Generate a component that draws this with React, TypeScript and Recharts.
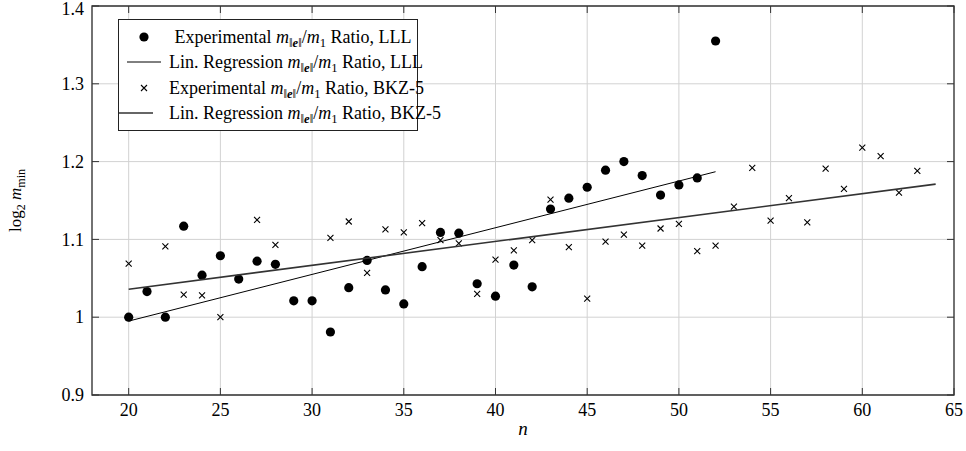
import React from 'react';
import { ScatterChart, Scatter, XAxis, YAxis, CartesianGrid, ReferenceArea, Legend } from 'recharts';

// ---- data ----
const nLLL = [20, 21, 22, 23, 24, 25, 26, 27, 28, 29, 30, 31, 32, 33, 34, 35, 36, 37, 38, 39, 40, 41, 42, 43, 44, 45, 46, 47, 48, 49, 50, 51, 52];
const ratioLLL = [1.0, 1.033, 1.0, 1.117, 1.054, 1.079, 1.049, 1.072, 1.068, 1.021, 1.021, 0.981, 1.038, 1.073, 1.035, 1.017, 1.065, 1.109, 1.108, 1.043, 1.027, 1.067, 1.039, 1.139, 1.153, 1.167, 1.189, 1.2, 1.182, 1.157, 1.17, 1.179, 1.355];

const nBKZ = [20, 22, 23, 24, 25, 27, 28, 31, 32, 33, 34, 35, 36, 37, 38, 39, 40, 41, 42, 43, 44, 45, 46, 47, 48, 49, 50, 51, 52, 53, 54, 55, 56, 57, 58, 59, 60, 61, 62, 63];
const ratioBKZ = [1.069, 1.091, 1.029, 1.028, 1.0, 1.125, 1.093, 1.102, 1.123, 1.057, 1.113, 1.109, 1.121, 1.099, 1.095, 1.03, 1.074, 1.086, 1.099, 1.151, 1.09, 1.024, 1.097, 1.106, 1.092, 1.114, 1.12, 1.085, 1.092, 1.142, 1.192, 1.124, 1.153, 1.122, 1.191, 1.165, 1.218, 1.207, 1.16, 1.188];

const regLLLn = [20, 52];
const regLLLv = [0.995, 1.187];
const regBKZn = [20, 64];
const regBKZv = [1.036, 1.171];

const xTicks = [20, 25, 30, 35, 40, 45, 50, 55, 60, 65];
const yTicks = [0.9, 1, 1.1, 1.2, 1.3, 1.4];
const xDomain = [18, 65];
const yDomain = [0.9, 1.4];

const legendMethods = ['LLL', 'LLL', 'BKZ-5', 'BKZ-5'];
const legendPrefixes = ['Experimental', 'Lin. Regression', 'Experimental', 'Lin. Regression'];

const toPoints = (xs: number[], ys: number[]) => xs.map((x, i) => ({ x, y: ys[i] }));
const dataLLL = toPoints(nLLL, ratioLLL);
const dataBKZ = toPoints(nBKZ, ratioBKZ);
const lineLLL = toPoints(regLLLn, regLLLv);
const lineBKZ = toPoints(regBKZn, regBKZv);

// ---- layout ----
const W = 966;
const H = 451;
const MARGIN = { top: 6, right: 12, left: 0, bottom: 0 };
const Y_AXIS_W = 92;
const X_AXIS_H = 56;
const PLOT_TOP = MARGIN.top;
const PLOT_BOTTOM = H - MARGIN.bottom - X_AXIS_H;
const PLOT_LEFT = MARGIN.left + Y_AXIS_W;
const PLOT_RIGHT = W - MARGIN.right;
const FONT = "'Liberation Serif', 'DejaVu Serif', serif";
const TICK_LEN = 7;
const FRAME = '#333';
const txt: React.CSSProperties = { fontFamily: FONT };

const XTick = (props: any) => {
  const { x, y, payload } = props;
  return (
    <g>
      <line x1={x} x2={x} y1={PLOT_BOTTOM} y2={PLOT_BOTTOM - TICK_LEN} stroke={FRAME} strokeWidth={1} />
      <line x1={x} x2={x} y1={PLOT_TOP} y2={PLOT_TOP + TICK_LEN} stroke={FRAME} strokeWidth={1} />
      <text x={x} y={y} dy="0.72em" textAnchor="middle" style={txt} fontSize={18} fill="#000">
        {String(payload.value)}
      </text>
    </g>
  );
};

const YTick = (props: any) => {
  const { x, y, payload } = props;
  const ly = Math.max(y, 9);
  return (
    <g>
      <line x1={PLOT_LEFT} x2={PLOT_LEFT + TICK_LEN} y1={y} y2={y} stroke={FRAME} strokeWidth={1} />
      <line x1={PLOT_RIGHT} x2={PLOT_RIGHT - TICK_LEN} y1={y} y2={y} stroke={FRAME} strokeWidth={1} />
      <text x={x} y={ly} dy="0.34em" textAnchor="end" style={txt} fontSize={18} fill="#000">
        {String(payload.value)}
      </text>
    </g>
  );
};

const Dot = (props: any) => <circle cx={props.cx} cy={props.cy} r={4.6} fill="#000" />;
const Cross = (props: any) => {
  const { cx, cy } = props;
  const s = 3;
  return (
    <path
      d={`M${cx - s},${cy - s}L${cx + s},${cy + s}M${cx + s},${cy - s}L${cx - s},${cy + s}`}
      stroke="#000"
      strokeWidth={1.1}
      fill="none"
    />
  );
};
const NoShape = () => <g />;

const subStyle: React.CSSProperties = { fontSize: '0.7em', verticalAlign: '-0.3em', lineHeight: 0 };
const MathRatio = () => (
  <>
    <i>m</i>
    <sub style={subStyle}>
      ‖<b><i>e</i></b>‖
    </sub>
    /<i>m</i>
    <sub style={subStyle}>1</sub>
  </>
);

const LegendSymbol = ({ idx }: { idx: number }) => (
  <svg width={50} height={20}>
    {idx === 0 && <circle cx={25} cy={10} r={4.6} fill="#000" />}
    {idx === 1 && <line x1={8} x2={42} y1={10} y2={10} stroke="#000" strokeWidth={1} />}
    {idx === 2 && (
      <path d="M22,7L28,13M28,7L22,13" stroke="#000" strokeWidth={1.1} fill="none" />
    )}
    {idx === 3 && <line x1={0} x2={34} y1={10} y2={10} stroke="#333" strokeWidth={1.6} />}
  </svg>
);

const LegendBox = () => (
  <div
    style={{
      border: '1.3px solid #222',
      background: '#fff',
      padding: '4px 0',
      fontFamily: FONT,
      fontSize: 18,
      color: '#000',
      boxSizing: 'border-box',
      width: 300,
    }}
  >
    {legendPrefixes.map((p, i) => (
      <div key={i} style={{ display: 'flex', alignItems: 'center', height: 25.5 }}>
        <div style={{ width: 50, display: 'flex', alignItems: 'center' }}>
          <LegendSymbol idx={i} />
        </div>
        <div style={{ flex: 1, textAlign: 'center', whiteSpace: 'nowrap', lineHeight: '20px' }}>
          {p} <MathRatio /> Ratio, {legendMethods[i]}
        </div>
      </div>
    ))}
  </div>
);

const YLabel = (props: any) => {
  const vb = props.viewBox || { x: 0, y: PLOT_TOP, width: Y_AXIS_W, height: PLOT_BOTTOM - PLOT_TOP };
  const cx = vb.x + 21;
  const cy = vb.y + vb.height / 2;
  return (
    <text
      x={cx}
      y={cy}
      transform={`rotate(-90, ${cx}, ${cy})`}
      textAnchor="middle"
      style={txt}
      fontSize={17}
      fill="#000"
    >
      log
      <tspan dy={4} fontSize={12}>2</tspan>
      <tspan dy={-4} fontStyle="italic"> m</tspan>
      <tspan dy={4} fontSize={12}>min</tspan>
    </text>
  );
};

const XLabel = (props: any) => {
  const vb = props.viewBox || { x: PLOT_LEFT, y: PLOT_BOTTOM, width: PLOT_RIGHT - PLOT_LEFT };
  return (
    <text
      x={vb.x + vb.width / 2}
      y={vb.y + 40}
      textAnchor="middle"
      style={txt}
      fontSize={19}
      fontStyle="italic"
      fill="#000"
    >
      n
    </text>
  );
};

export default function App() {
  return (
    <div style={{ position: 'absolute', left: 0, top: 0, width: W, height: H, background: '#fff' }}>
      <ScatterChart width={W} height={H} margin={MARGIN}>
        <CartesianGrid stroke="#d2d2d2" strokeWidth={1} />
        <XAxis
          type="number"
          dataKey="x"
          domain={xDomain}
          ticks={xTicks}
          allowDataOverflow
          height={X_AXIS_H}
          axisLine={false}
          tickLine={false}
          tickSize={0}
          tickMargin={8}
          tick={<XTick />}
          interval={0}
          label={<XLabel />}
        />
        <YAxis
          type="number"
          dataKey="y"
          domain={yDomain}
          ticks={yTicks}
          allowDataOverflow
          width={Y_AXIS_W}
          axisLine={false}
          tickLine={false}
          tickSize={0}
          tickMargin={8}
          tick={<YTick />}
          interval={0}
          label={<YLabel />}
        />
        <ReferenceArea
          x1={xDomain[0]}
          x2={xDomain[1]}
          y1={yDomain[0]}
          y2={yDomain[1]}
          fill="none"
          fillOpacity={0}
          stroke={FRAME}
          strokeWidth={1.3}
          ifOverflow="visible"
        />
        <Scatter name="LLL" data={dataLLL} shape={<Dot />} isAnimationActive={false} />
        <Scatter
          name="regLLL"
          data={lineLLL}
          line={{ stroke: '#000', strokeWidth: 1 }}
          shape={<NoShape />}
          isAnimationActive={false}
        />
        <Scatter name="BKZ" data={dataBKZ} shape={<Cross />} isAnimationActive={false} />
        <Scatter
          name="regBKZ"
          data={lineBKZ}
          line={{ stroke: '#333', strokeWidth: 1.6 }}
          shape={<NoShape />}
          isAnimationActive={false}
        />
        <Legend
          layout="vertical"
          align="center"
          verticalAlign="middle"
          content={<LegendBox />}
          wrapperStyle={{ left: 118, top: 19, width: 300 }}
        />
      </ScatterChart>
    </div>
  );
}
